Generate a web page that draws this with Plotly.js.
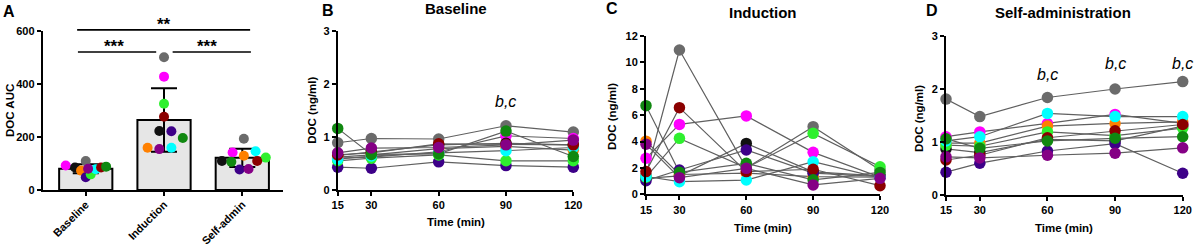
<!DOCTYPE html>
<html>
<head>
<meta charset="utf-8">
<script src="https://cdn.plot.ly/plotly-3.0.1.min.js"></script>
<style>
html,body{margin:0;padding:0;background:#fff;}
#chart{width:1196px;height:249px;}
</style>
</head>
<body>
<div id="chart"></div>
<script>
// ---------- DATA ----------
const animalNames = ['A1','A2','A3','A4','A5','A6','A7','A8','A9','A10'];
const animalColors = ['#6b6b6b','#ff00ff','#111111','#ff8000','#3d0088','#2ef02e','#00ffff','#8b0000','#108810','#850085'];
const groupLabels = ['Baseline','Induction','Self-admin'];
// DOC AUC per animal (same animal order)
const aucBaseline  = [109, 92, 85, 73, 48, 59, 78, 85, 88, 80];
const aucInduction = [500, 427, 222, 159, 221, 325, 159, 276, 196, 154];
const aucSelfAdmin = [193, 141, 109, 129, 77, 122, 146, 109, 106, 79];
const timePoints = [15, 30, 60, 90, 120];
// DOC (ng/ml) per animal at each time point
const docBaseline = [
  [0.89, 0.97, 0.96, 1.21, 1.09],
  [0.60, 0.62, 0.72, 1.02, 0.97],
  [0.65, 0.72, 0.85, 0.88, 0.85],
  [0.62, 0.66, 0.78, 0.82, 0.75],
  [0.43, 0.41, 0.53, 0.46, 0.43],
  [0.55, 0.60, 0.66, 0.55, 0.55],
  [0.58, 0.64, 0.70, 0.74, 0.80],
  [0.66, 0.70, 0.87, 0.86, 0.85],
  [1.16, 0.67, 0.68, 1.11, 0.63],
  [0.70, 0.79, 0.80, 0.85, 0.94]
];
const docInduction = [
  [1.46, 10.94, 2.00, 5.13, 1.84],
  [2.73, 5.30, 5.94, 3.18, 1.30],
  [1.20, 1.40, 3.86, 1.70, 1.40],
  [4.03, 1.50, 1.60, 1.34, 1.30],
  [1.03, 1.84, 3.36, 1.60, 1.35],
  [1.30, 4.24, 2.00, 4.62, 2.09],
  [1.35, 0.96, 1.08, 2.47, 1.25],
  [1.72, 6.57, 1.72, 1.90, 0.65],
  [6.72, 1.67, 2.35, 1.10, 1.66],
  [3.80, 1.26, 1.97, 0.71, 1.21]
];
const docSelfAdmin = [
  [1.81, 1.48, 1.84, 2.00, 2.14],
  [1.10, 1.19, 1.35, 1.52, 1.35],
  [0.87, 0.80, 1.05, 1.02, 1.30],
  [0.98, 0.98, 1.30, 1.35, 1.38],
  [0.43, 0.60, 0.83, 0.97, 0.41],
  [0.94, 0.92, 1.19, 1.12, 1.26],
  [1.02, 1.10, 1.54, 1.48, 1.48],
  [0.66, 0.75, 1.08, 1.21, 1.33],
  [1.06, 0.88, 1.02, 1.07, 1.10],
  [0.72, 0.70, 0.75, 0.79, 0.89]
];
const sigLabels = ['**', '***', '***'];
const letterLabel = 'b,c';

// ---------- STYLE / POSITION (not data) ----------
const dotJitter = [
  [0.00, -0.256, -0.137, -0.06, 0.00, 0.064, 0.128, 0.196, 0.26, 0.03],
  [0.00, 0.00, -0.06, -0.21, 0.094, 0.00, 0.094, 0.00, 0.24, -0.06],
  [0.02, -0.124, -0.26, 0.02, -0.035, 0.30, 0.17, 0.19, -0.14, 0.08]
];
const W = 1196, H = 249;
const FONT = 'Liberation Sans, Arial, sans-serif';
const px = x => x / W;
const py = y => 1 - y / H;

const domA = {x:[px(42.7), px(283)], y:[py(190), py(30.7)]};
const domB = {x:[px(337.7), px(573.3)], y:[py(190), py(30.7)]};
const domC = {x:[px(646), px(880)], y:[py(194.3), py(36)]};
const domD = {x:[px(946), px(1182.7)], y:[py(195), py(36)]};
const rangeAx = [-0.55, 2.52], rangeAy = [0, 600];

function mean(a){return a.reduce((s,v)=>s+v,0)/a.length;}
function sd(a){const m=mean(a);return Math.sqrt(a.reduce((s,v)=>s+(v-m)*(v-m),0)/(a.length-1));}

const aucGroups = [aucBaseline, aucInduction, aucSelfAdmin];
const traces = [];

// Panel A bars
traces.push({
  type:'bar', x:[0,1,2], y:aucGroups.map(mean), width:0.68,
  marker:{color:'#e6e6e6', line:{color:'#000', width:2}},
  error_y:{type:'data', array:aucGroups.map(sd), visible:true, color:'#000', thickness:2, width:13},
  xaxis:'x', yaxis:'y', showlegend:false, hoverinfo:'skip'
});
// Panel A dots
for (let i = 0; i < animalNames.length; i++) {
  traces.push({
    type:'scatter', mode:'markers',
    x:[0,1,2].map(g => g + dotJitter[g][i]),
    y:aucGroups.map(g => g[i]),
    marker:{color:animalColors[i], size:10},
    xaxis:'x', yaxis:'y', showlegend:false, cliponaxis:false
  });
}

// Panels B-D: lines first, then markers
const lineSets = [[docBaseline,'x2','y2'],[docInduction,'x3','y3'],[docSelfAdmin,'x4','y4']];
lineSets.forEach(([data, xa, ya]) => {
  data.forEach((row, i) => {
    traces.push({type:'scatter', mode:'lines', x:timePoints, y:row,
      line:{color:'#606060', width:1.2}, xaxis:xa, yaxis:ya, showlegend:false, cliponaxis:false, hoverinfo:'skip'});
  });
});
lineSets.forEach(([data, xa, ya]) => {
  data.forEach((row, i) => {
    traces.push({type:'scatter', mode:'markers', x:timePoints, y:row,
      marker:{color:animalColors[i], size:11.5}, xaxis:xa, yaxis:ya, showlegend:false, cliponaxis:false, name:animalNames[i]});
  });
});

const tickFont = {family:FONT, size:11, color:'#000', weight:700};
function baseAxis(extra){
  return Object.assign({
    showgrid:false, zeroline:false, showline:true, linecolor:'#000', linewidth:2,
    ticks:'outside', ticklen:4, tickwidth:2, tickcolor:'#000',
    tickfont:tickFont, fixedrange:true
  }, extra);
}

const layout = {
  width:W, height:H, margin:{l:0,r:0,t:0,b:0},
  paper_bgcolor:'#fff', plot_bgcolor:'rgba(0,0,0,0)', showlegend:false,
  font:{family:FONT, color:'#000'},
  xaxis: baseAxis({domain:domA.x, range:rangeAx, tickvals:[0,1,2], ticktext:groupLabels, tickangle:-45, anchor:'y', ticklabelstandoff:-2, tickfont:{family:FONT, size:11, color:'#000', weight:700}}),
  yaxis: baseAxis({domain:domA.y, range:rangeAy, tickvals:[0,200,400,600], anchor:'x'}),
  xaxis2: baseAxis({domain:domB.x, range:[15,120], tickvals:timePoints, anchor:'y2'}),
  yaxis2: baseAxis({domain:domB.y, range:[0,3], tickvals:[0,1,2,3], anchor:'x2'}),
  xaxis3: baseAxis({domain:domC.x, range:[15,120], tickvals:timePoints, anchor:'y3'}),
  yaxis3: baseAxis({domain:domC.y, range:[0,12], tickvals:[0,2,4,6,8,10,12], anchor:'x3'}),
  xaxis4: baseAxis({domain:domD.x, range:[15,120], tickvals:timePoints, anchor:'y4'}),
  yaxis4: baseAxis({domain:domD.y, range:[0,3], tickvals:[0,1,2,3], anchor:'x4'}),
  annotations:[], shapes:[]
};

function txt(x, y, text, size, opts){
  layout.annotations.push(Object.assign({
    xref:'paper', yref:'paper', x:px(x), y:py(y), text:text, showarrow:false,
    xanchor:'center', yanchor:'middle',
    font:{family:FONT, size:size, color:'#000', weight:700}
  }, opts||{}));
}
// panel letters
txt(9, 11.5, 'A', 16);
txt(327.5, 10, 'B', 16);
txt(612, 8.5, 'C', 16);
txt(932, 10, 'D', 16);
// panel titles
txt(456, 8.5, 'Baseline', 15);
txt(762.7, 12.5, 'Induction', 15);
txt(1063, 12.8, 'Self-administration', 15);
// axis titles
txt(10, 111, 'DOC AUC', 11.5, {textangle:-90});
txt(311.7, 110, 'DOC (ng/ml)', 11.5, {textangle:-90});
txt(612, 117, 'DOC (ng/ml)', 11.5, {textangle:-90});
txt(919, 119, 'DOC (ng/ml)', 11.5, {textangle:-90});
txt(456, 221.7, 'Time (min)', 11.5);
txt(762.7, 227.7, 'Time (min)', 11.5);
txt(1064, 227.7, 'Time (min)', 11.5);

// significance brackets for panel A (data -> paper conversion)
const aX = v => domA.x[0] + (v - rangeAx[0]) / (rangeAx[1] - rangeAx[0]) * (domA.x[1] - domA.x[0]);
const aY = v => domA.y[0] + (v - rangeAy[0]) / (rangeAy[1] - rangeAy[0]) * (domA.y[1] - domA.y[0]);
function hline(x0, x1, yv){
  layout.shapes.push({type:'line', xref:'paper', yref:'paper', x0:aX(x0), x1:aX(x1), y0:aY(yv), y1:aY(yv), line:{color:'#000', width:1.6}});
}
hline(-0.11, 2.10, 603);
hline(-0.10, 0.90, 520);
hline(1.11, 2.11, 520);
function star(xv, yv, text){
  layout.annotations.push({xref:'paper', yref:'paper', x:aX(xv), y:aY(yv), text:text, showarrow:false,
    xanchor:'center', yanchor:'middle', font:{family:FONT, size:17, color:'#000', weight:700}});
}
star(1.0, 624, sigLabels[0]);
star(0.36, 542, sigLabels[1]);
star(1.555, 542, sigLabels[2]);

// b,c letters
function bc(xa, ya, xv, yv){
  layout.annotations.push({xref:xa, yref:ya, x:xv, y:yv, text:letterLabel, showarrow:false,
    xanchor:'center', yanchor:'middle', font:{family:FONT, size:16, color:'#000', style:'italic'}});
}
bc('x2','y2', 90, 1.66);
bc('x4','y4', 60, 2.28);
bc('x4','y4', 90, 2.48);
bc('x4','y4', 120, 2.48);

Plotly.newPlot('chart', traces, layout, {staticPlot:true, displayModeBar:false});
</script>
</body>
</html>
